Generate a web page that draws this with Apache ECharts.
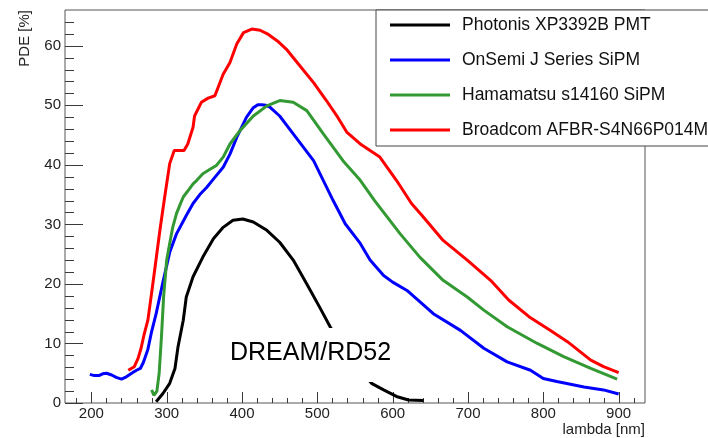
<!DOCTYPE html>
<html>
<head>
<meta charset="utf-8">
<script src="https://cdn.jsdelivr.net/npm/echarts@6/dist/echarts.min.js"></script>
<style>
html,body{margin:0;padding:0;background:#fff;}
#chart{width:708px;height:438px;}
</style>
</head>
<body>
<div id="chart"></div>
<script>
// ---- data ----
var seriesNames = ['Photonis XP3392B PMT', 'OnSemi J Series SiPM', 'Hamamatsu s14160 SiPM', 'Broadcom AFBR-S4N66P014M'];
var seriesColors = ['#000000', '#0000ff', '#339933', '#ff0000'];

var photonisLambda = [286, 295, 304, 311, 315, 322, 326, 335, 348, 362, 375, 388, 401, 415, 433, 450, 468, 486, 503, 517, 530, 545, 560, 572, 588, 605, 621, 641];
var photonisPde    = [0.2, 1.6, 3.3, 5.8, 9.4, 13.9, 17.8, 21.2, 24.5, 27.6, 29.5, 30.7, 30.9, 30.4, 29.0, 27.0, 24.0, 20.0, 16.1, 12.8, 10.2, 7.5, 5.0, 3.3, 2.2, 1.1, 0.5, 0.4];

var onsemiLambda = [198, 204, 210, 215, 220, 227, 233, 240, 245, 251, 256, 260, 265, 269, 275, 280, 286, 295, 304, 313, 326, 335, 344, 353, 362, 375, 384, 393, 406, 415, 421, 426, 432, 437, 450, 468, 495, 521, 537, 557, 570, 588, 600, 619, 654, 690, 721, 752, 783, 800, 818, 854, 880, 900];
var onsemiPde    = [4.8, 4.6, 4.6, 4.9, 5.0, 4.7, 4.3, 4.0, 4.3, 4.8, 5.2, 5.5, 5.8, 6.8, 9.0, 12.0, 15.0, 20.3, 25.3, 28.4, 31.5, 33.5, 35.0, 36.2, 37.6, 39.6, 41.8, 44.6, 48.0, 49.6, 50.1, 50.1, 50.0, 49.7, 48.2, 45.2, 40.7, 34.0, 30.1, 26.8, 24.0, 21.4, 20.3, 18.9, 15.0, 12.2, 9.2, 6.9, 5.5, 4.1, 3.6, 2.7, 2.2, 1.5];

var hamamatsuLambda = [280, 283, 287, 290, 293, 296, 300, 304, 308, 313, 318, 322, 328, 335, 340, 348, 357, 366, 375, 384, 397, 415, 433, 450, 468, 486, 508, 534, 557, 576, 610, 636, 667, 699, 721, 752, 792, 827, 863, 898];
var hamamatsuPde    = [2.2, 1.3, 2.0, 5.0, 11.0, 18.0, 24.0, 26.8, 29.5, 31.8, 33.4, 34.6, 35.6, 36.8, 37.4, 38.5, 39.2, 39.9, 41.3, 43.5, 45.7, 48.2, 49.9, 50.8, 50.5, 49.1, 45.2, 40.7, 37.4, 34.0, 28.4, 24.5, 20.6, 17.8, 15.6, 12.8, 10.0, 7.8, 5.8, 4.0];

var broadcomLambda = [249, 257, 262, 266, 270, 275, 280, 284, 291, 297, 304, 310, 323, 328, 335, 337, 346, 355, 364, 375, 384, 393, 402, 413, 424, 435, 447, 459, 477, 495, 512, 527, 539, 557, 583, 605, 625, 639, 667, 699, 730, 754, 781, 809, 832, 863, 880, 900];
var broadcomPde    = [5.5, 6.1, 7.5, 9.2, 11.5, 13.9, 18.5, 22.3, 29.0, 34.3, 40.2, 42.4, 42.4, 43.5, 46.3, 48.2, 50.5, 51.2, 51.6, 55.2, 57.2, 60.3, 62.2, 62.8, 62.6, 61.9, 60.8, 59.4, 56.6, 53.8, 50.8, 48.0, 45.5, 43.5, 41.3, 37.4, 33.5, 31.5, 27.3, 24.0, 20.6, 17.3, 14.5, 12.2, 10.3, 7.2, 6.1, 5.1];

var xTickLabels = [200, 300, 400, 500, 600, 700, 800, 900];
var xMinorTicks = [180, 220, 240, 260, 280, 320, 340, 360, 380, 420, 440, 460, 480, 520, 540, 560, 580, 620, 640, 660, 680, 720, 740, 760, 780, 820, 840, 860, 880, 920];
var yTickLabels = [0, 10, 20, 30, 40, 50, 60];
var yMinorTicks = [2, 4, 6, 8, 12, 14, 16, 18, 22, 24, 26, 28, 32, 34, 36, 38, 42, 44, 46, 48, 52, 54, 56, 58, 62, 64];

var xTitle = 'lambda [nm]';
var yTitle = 'PDE [%]';
var annotation = 'DREAM/RD52';

// ---- chart ----
var FONT = '"Liberation Sans", Arial, Helvetica, sans-serif';
var X_MIN = 165, X_MAX = 935, Y_MIN = 0, Y_MAX = 66;
function zip(a, b) { var r = []; for (var i = 0; i < a.length; i++) r.push([a[i], b[i]]); return r; }
var lambdas = [photonisLambda, onsemiLambda, hamamatsuLambda, broadcomLambda];
var pdes = [photonisPde, onsemiPde, hamamatsuPde, broadcomPde];

var series = seriesNames.map(function (n, i) {
  return {
    name: n, type: 'line',
    data: zip(lambdas[i], pdes[i]),
    showSymbol: false, symbol: 'none', smooth: false,
    lineStyle: { width: 3, color: seriesColors[i] },
    itemStyle: { color: seriesColors[i] },
    z: 3
  };
});

// axis tick marks, placed through the axis scales
function tickSeries(name, values, horizontalAxis, len) {
  return {
    name: name, type: 'custom', silent: true, clip: false, z: 2,
    data: values.map(function (v) { return horizontalAxis ? [v, Y_MIN] : [X_MIN, v]; }),
    renderItem: function (params, api) {
      var p = api.coord([api.value(0), api.value(1)]);
      var x = Math.round(p[0]) + 0.5, y = Math.round(p[1]) + 0.5;
      var shape = horizontalAxis ? { x1: x, y1: Math.round(p[1]), x2: x, y2: Math.round(p[1]) - len }
                                 : { x1: Math.round(p[0]), y1: y, x2: Math.round(p[0]) + len, y2: y };
      return { type: 'line', shape: shape, style: { stroke: '#3a3a3a', lineWidth: 1 } };
    }
  };
}
series.push(tickSeries('xMajor', xTickLabels, true, 11));
series.push(tickSeries('xMinor', xMinorTicks, true, 5));
series.push(tickSeries('yMajor', yTickLabels, false, 18));
series.push(tickSeries('yMinor', yMinorTicks, false, 9));

var chart = echarts.init(document.getElementById('chart'), null, { renderer: 'canvas' });

chart.setOption({
  animation: false,
  backgroundColor: '#ffffff',
  grid: { left: 65, top: 10, width: 580, height: 393, show: true, borderColor: '#555', borderWidth: 1 },
  xAxis: {
    type: 'value', min: X_MIN, max: X_MAX,
    axisLine: { show: false }, splitLine: { show: false }, axisTick: { show: false },
    name: xTitle, nameLocation: 'end', nameGap: 0,
    nameTextStyle: { fontFamily: FONT, fontSize: 15, color: '#222', align: 'right', verticalAlign: 'top', padding: [19, 0, 0, 0] },
    axisLabel: { show: true, customValues: xTickLabels, margin: 3, fontFamily: FONT, fontSize: 15, color: '#222' }
  },
  yAxis: {
    type: 'value', min: Y_MIN, max: Y_MAX,
    axisLine: { show: false }, splitLine: { show: false }, axisTick: { show: false },
    axisLabel: { show: true, customValues: yTickLabels, margin: 4, fontFamily: FONT, fontSize: 15, color: '#222' }
  },
  legend: {
    orient: 'vertical', left: 376, top: 10,
    padding: [5, 60, 6, 14],
    itemWidth: 60, itemHeight: 3, itemGap: 15,
    icon: 'rect',
    backgroundColor: '#ffffff', borderColor: '#444', borderWidth: 1, borderRadius: 0,
    textStyle: { fontFamily: FONT, fontSize: 17.5, color: '#111', lineHeight: 20, padding: [0, 0, 0, 7] },
    data: seriesNames,
    z: 10
  },
  graphic: [
    { type: 'text', x: 25, y: 10, rotation: Math.PI / 2, z: 10,
      style: { text: yTitle, font: '15px ' + FONT, fill: '#222', align: 'right', verticalAlign: 'middle' } },
    { type: 'rect', shape: { x: 222, y: 328, width: 186, height: 54 }, z: 50,
      style: { fill: '#ffffff', stroke: null } },
    { type: 'text', x: 230, y: 353, z: 51,
      style: { text: annotation, font: '25px ' + FONT, fill: '#000', align: 'left', verticalAlign: 'middle' } }
  ],
  series: series
});
</script>
</body>
</html>
